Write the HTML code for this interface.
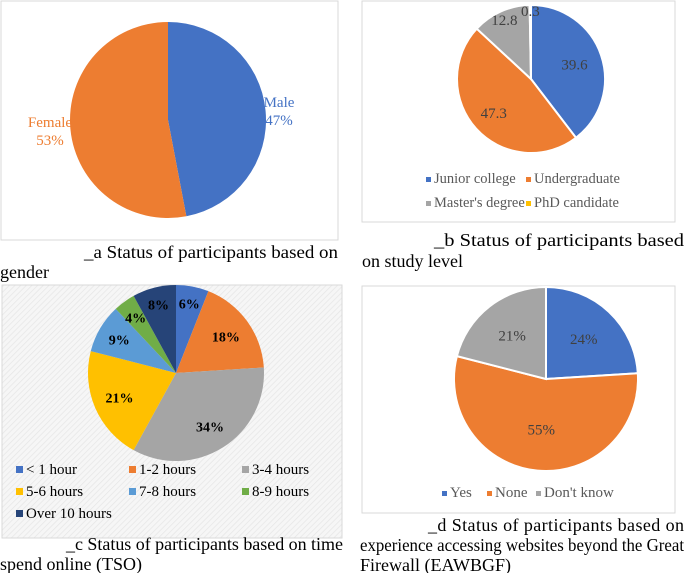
<!DOCTYPE html>
<html><head><meta charset="utf-8">
<style>
body{margin:0;width:685px;height:573px;background:#fff;position:relative;overflow:hidden;font-family:"Liberation Serif",serif;}
svg{position:absolute;left:0;top:0}
</style></head><body>
<svg id="chart" width="685" height="573">
<defs>
<pattern id="hatch" width="4" height="4" patternUnits="userSpaceOnUse" patternTransform="rotate(45)">
<rect width="4" height="4" fill="#f6f6f6"/><line x1="0" y1="0" x2="0" y2="4" stroke="#e6e6e6" stroke-width="1.5"/>
</pattern>
</defs>
<rect x="1" y="1" width="337" height="239" fill="#fff" stroke="#d9d9d9"/>
<rect x="362" y="1" width="313" height="221" fill="#fff" stroke="#d9d9d9"/>
<rect x="2" y="285" width="340" height="253" fill="url(#hatch)" stroke="#d9d9d9"/>
<rect x="362" y="286" width="313" height="227" fill="#fff" stroke="#d9d9d9"/>
<g font-family="Liberation Serif, serif" font-size="18" fill="#000">
<text x="84" y="258" textLength="254" lengthAdjust="spacingAndGlyphs">_a Status of participants based on</text>
<text x="0" y="278">gender</text>
<text x="434" y="246" textLength="250" lengthAdjust="spacingAndGlyphs">_b Status of participants based</text>
<text x="362" y="267">on study level</text>
<text x="66" y="550" textLength="277" lengthAdjust="spacing">_c Status of participants based on time</text>
<text x="0" y="570">spend online (TSO)</text>
<text x="428" y="531" textLength="256" lengthAdjust="spacing">_d Status of participants based on</text>
<text x="360" y="551" textLength="324" lengthAdjust="spacingAndGlyphs">experience accessing websites beyond the Great</text>
<text x="360" y="571">Firewall (EAWBGF)</text>
</g>
</svg>
<script>
const genderCats=["Male","Female"];
const genderVals=[47,53];
const levelCats=["Junior college","Undergraduate","Master's degree","PhD candidate"];
const levelVals=[39.6,47.3,12.8,0.3];
const tsoCats=["< 1 hour","1-2 hours","3-4 hours","5-6 hours","7-8 hours","8-9 hours","Over 10 hours"];
const tsoVals=[6,18,34,21,9,4,8];
const gfwCats=["Yes","None","Don't know"];
const gfwVals=[24,55,21];

const svg=document.getElementById('chart');
const NS='http://www.w3.org/2000/svg';
function mk(tag,attrs){const e=document.createElementNS(NS,tag);for(const k in attrs)e.setAttribute(k,attrs[k]);svg.appendChild(e);return e;}
function pie(name,cx,cy,r,vals,cats,colors,stroke,labelFn,lr,fontAttrs){
  const tot=vals.reduce((a,b)=>a+b,0);let a0=-Math.PI/2;
  vals.forEach((v,i)=>{
    const a1=a0+v/tot*2*Math.PI;
    const x0=cx+r*Math.cos(a0),y0=cy+r*Math.sin(a0),x1=cx+r*Math.cos(a1),y1=cy+r*Math.sin(a1);
    const large=(a1-a0)>Math.PI?1:0;
    const p=mk('path',{d:`M${cx},${cy}L${x0},${y0}A${r},${r} 0 ${large} 1 ${x1},${y1}Z`,fill:colors[i],stroke:stroke,'stroke-width':stroke=='none'?0:2});
    
    
    const am=(a0+a1)/2;
    const t=labelFn(v,i,am);
    if(t){
      const tx=mk('text',Object.assign({x:cx+lr[i]*r*Math.cos(am),y:cy+lr[i]*r*Math.sin(am),dy:'0.35em','text-anchor':'middle','font-family':'Liberation Serif, serif'},fontAttrs(i)));
      tx.textContent=t;
      
      
    }
    a0=a1;
  });
}
function legend(name,items,colors,color,size,sq){
  items.forEach((it,i)=>{
    const r=mk('rect',{x:it[0],y:it[1]-sq-1,width:sq,height:sq,fill:colors[i]});
    
    
    const t=mk('text',{x:it[0]+sq+3,y:it[1],'font-size':size,fill:color,'font-family':'Liberation Serif, serif'});
    t.textContent=it[2];
    
    
  });
}
// panel a
pie('gender',168,120,98,genderVals,genderCats,['#4472c4','#ed7d31'],'none',()=>null,[0,0],()=>({}));
genderCats.forEach((c,i)=>{
  const x=i==0?279:50, col=i==0?'#4472c4':'#ed7d31';
  const t=mk('text',{x:x,y:i==0?107:127,'text-anchor':'middle','font-size':15,fill:col,'font-family':'Liberation Serif, serif'});
  t.innerHTML=`<tspan x="${x}">${c}</tspan><tspan x="${x}" dy="18">${genderVals[i]}%</tspan>`;
  
  
});
// panel b
const bCol=['#4472c4','#ed7d31','#a5a5a5','#ffc000'];
pie('level',531,79,74,levelVals,levelCats,bCol,'#fff',(v)=>String(v),[0.62,0.68,0.88,0.92],()=>({'font-size':15,fill:'#404040'}));
legend('level',[[426,183,levelCats[0]],[526,183,levelCats[1]],[426,207,levelCats[2]],[526,207,levelCats[3]]],bCol,'#595959',14.5,5);
// panel c
const cCol=['#4472c4','#ed7d31','#a5a5a5','#ffc000','#5b9bd5','#70ad47','#264478'];
pie('tso',176,373,88,tsoVals,tsoCats,cCol,'none',(v)=>v+'%',[0.8,0.7,0.72,0.7,0.75,0.78,0.8],()=>({'font-size':14,'font-weight':'bold',fill:'#000'}));
legend('tso',[[16,474,tsoCats[0]],[129,474,tsoCats[1]],[242,474,tsoCats[2]],[16,496,tsoCats[3]],[129,496,tsoCats[4]],[242,496,tsoCats[5]],[16,518,tsoCats[6]]],cCol,'#000',15,7);
// panel d
const dCol=['#4472c4','#ed7d31','#a5a5a5'];
pie('gfw',546,379,92,gfwVals,gfwCats,dCol,'#fff',(v)=>v+'%',[0.6,0.55,0.6],()=>({'font-size':15,fill:'#404040'}));
legend('gfw',[[442,497,gfwCats[0]],[487,497,gfwCats[1]],[536,497,gfwCats[2]]],dCol,'#595959',15,5);
</script>
</body></html>
